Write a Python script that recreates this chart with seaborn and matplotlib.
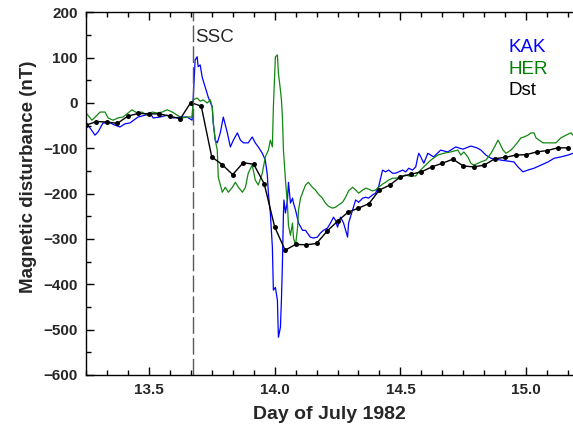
"""Magnetic disturbance during the July 1982 storm: KAK, HER and Dst."""

import numpy as np
import pandas as pd
import matplotlib
matplotlib.use('Agg')
import matplotlib.pyplot as plt
from matplotlib.ticker import MultipleLocator
import seaborn as sns

# KAK (blue) - day of July 1982, disturbance in nT
kak_day = [13.246, 13.266, 13.286, 13.298, 13.318, 13.346, 13.366, 13.385, 13.405, 13.425,
           13.457, 13.485, 13.505, 13.517, 13.545, 13.573, 13.597, 13.625, 13.652, 13.672,
           13.676, 13.684, 13.692, 13.696, 13.704, 13.712, 13.724, 13.736, 13.752, 13.756,
           13.764, 13.772, 13.784, 13.796, 13.812, 13.824, 13.836, 13.852, 13.864, 13.876,
           13.895, 13.911, 13.923, 13.935, 13.951, 13.963, 13.971, 13.975, 13.983, 13.991,
           13.995, 14.003, 14.011, 14.013, 14.015, 14.023, 14.027, 14.031, 14.035, 14.037,
           14.043, 14.051, 14.055, 14.063, 14.071, 14.075, 14.083, 14.095, 14.111, 14.123,
           14.130, 14.142, 14.154, 14.170, 14.182, 14.194, 14.210, 14.222, 14.234, 14.242,
           14.250, 14.262, 14.274, 14.290, 14.294, 14.310, 14.322, 14.334, 14.350, 14.362,
           14.373, 14.389, 14.401, 14.413, 14.429, 14.441, 14.453, 14.469, 14.481, 14.493,
           14.509, 14.521, 14.533, 14.548, 14.561, 14.569, 14.573, 14.581, 14.593, 14.609,
           14.632, 14.660, 14.688, 14.720, 14.748, 14.780, 14.804, 14.820, 14.840, 14.860,
           14.899, 14.951, 14.967, 14.987, 15.007, 15.031, 15.059, 15.087, 15.111, 15.138,
           15.166, 15.186]
kak_nT = [-40, -55, -71, -64, -44, -44, -49, -53, -46, -44,
          -31, -27, -22, -33, -31, -27, -33, -31, -31, -38,
          7, 95, 102, 80, 84, 57, 35, 13, -9, -44,
          -82, -88, -66, -31, -66, -97, -82, -66, -82, -88,
          -88, -75, -88, -97, -111, -126, -159, -199, -243, -318,
          -413, -407, -435, -480, -517, -495, -435, -354, -243, -214,
          -243, -214, -175, -221, -210, -221, -236, -265, -281, -281,
          -287, -296, -298, -296, -287, -281, -276, -265, -252, -259,
          -274, -252, -265, -296, -265, -236, -214, -219, -210, -208,
          -210, -203, -199, -186, -148, -152, -148, -155, -155, -152,
          -148, -152, -144, -148, -141, -119, -111, -119, -133, -111,
          -119, -104, -108, -97, -102, -95, -99, -104, -115, -122,
          -126, -130, -141, -152, -148, -144, -137, -130, -122, -119,
          -115, -111]

# HER (green)
her_day = [13.246, 13.258, 13.274, 13.294, 13.306, 13.326, 13.338, 13.358, 13.377, 13.397,
           13.417, 13.433, 13.453, 13.473, 13.493, 13.513, 13.533, 13.553, 13.573, 13.593,
           13.613, 13.632, 13.652, 13.672, 13.676, 13.692, 13.704, 13.716, 13.732, 13.744,
           13.752, 13.756, 13.764, 13.772, 13.776, 13.792, 13.804, 13.816, 13.832, 13.844,
           13.856, 13.872, 13.884, 13.895, 13.911, 13.923, 13.935, 13.951, 13.963, 13.975,
           13.983, 13.991, 13.995, 14.003, 14.011, 14.015, 14.023, 14.027, 14.031, 14.035,
           14.043, 14.051, 14.055, 14.063, 14.071, 14.075, 14.083, 14.091, 14.095, 14.103,
           14.115, 14.123, 14.134, 14.150, 14.162, 14.174, 14.190, 14.202, 14.214, 14.230,
           14.242, 14.254, 14.270, 14.282, 14.294, 14.310, 14.322, 14.334, 14.350, 14.362,
           14.373, 14.389, 14.401, 14.413, 14.429, 14.441, 14.453, 14.469, 14.481, 14.493,
           14.509, 14.521, 14.533, 14.548, 14.561, 14.573, 14.593, 14.621, 14.648, 14.672,
           14.700, 14.728, 14.740, 14.752, 14.768, 14.780, 14.792, 14.820, 14.840, 14.860,
           14.872, 14.888, 14.892, 14.908, 14.920, 14.939, 14.951, 14.967, 14.979, 14.991,
           15.007, 15.019, 15.031, 15.039, 15.051, 15.067, 15.087, 15.118, 15.138, 15.158,
           15.178, 15.186]
her_nT = [-20, -27, -38, -27, -20, -20, -33, -38, -33, -31,
          -22, -15, -22, -20, -27, -20, -22, -20, -15, -20,
          -27, -33, -31, -31, 7, 11, 4, 7, 0, 7,
          -9, -44, -82, -104, -164, -197, -186, -197, -186, -175,
          -186, -197, -186, -155, -137, -170, -181, -155, -119, -104,
          -82, -97, -9, 102, 106, 66, 29, 7, -31, -104,
          -170, -225, -270, -292, -265, -298, -314, -276, -236, -210,
          -192, -181, -175, -186, -192, -201, -210, -221, -228, -232,
          -230, -225, -219, -208, -194, -186, -192, -199, -192, -188,
          -190, -194, -192, -186, -179, -175, -170, -166, -166, -164,
          -161, -159, -161, -161, -161, -152, -141, -126, -115, -111,
          -108, -104, -115, -108, -119, -133, -137, -130, -126, -111,
          -99, -82, -86, -104, -111, -104, -97, -86, -77, -75,
          -71, -66, -66, -77, -82, -88, -88, -88, -77, -71,
          -66, -71]

# Dst hourly index, first value at 06 UT on 13 July
dst_nT = [-49, -41, -42, -45, -29, -23, -24, -24, -29, -35,
          1, -7, -119, -136, -158, -132, -135, -178, -273, -325,
          -312, -313, -310, -283, -261, -241, -232, -222, -192, -181,
          -163, -157, -152, -141, -133, -124, -139, -141, -137, -123,
          -120, -115, -114, -108, -105, -99, -99]
dst_day = 13.25 + np.arange(len(dst_nT)) / 24.0

ssc_day = 13.676

kak = pd.DataFrame({'day': kak_day, 'nT': kak_nT})
her = pd.DataFrame({'day': her_day, 'nT': her_nT})
dst = pd.DataFrame({'day': dst_day, 'nT': dst_nT})

sns.set_theme(style='ticks')
plt.rcParams['font.family'] = ['Liberation Sans', 'DejaVu Sans']

fig = plt.figure(figsize=(5.73, 4.26), dpi=100)
ax = fig.add_axes([0.150, 0.120, 0.850, 0.851])

blue = '#0000ff'
green = '#118811'

sns.lineplot(data=kak, x='day', y='nT', ax=ax, color=blue, lw=0.9,
             estimator=None, sort=False)
sns.lineplot(data=her, x='day', y='nT', ax=ax, color=green, lw=0.9,
             estimator=None, sort=False)
sns.lineplot(data=dst, x='day', y='nT', ax=ax, color='black', lw=1.0,
             marker='o', markersize=3.6, markeredgewidth=0,
             estimator=None, sort=False)

ax.axvline(ssc_day, color='0.35', lw=1.0, dashes=(12, 3))
ax.text(ssc_day + 0.008, 0.918, 'SSC', transform=ax.get_xaxis_transform(),
        fontsize=13.5, va='baseline', ha='left')

for i, (name, col) in enumerate([('KAK', blue), ('HER', '#008000'), ('Dst', 'black')]):
    ax.text(509 / 573, 1 - (52 + 21.5 * i) / 426, name, transform=fig.transFigure,
            fontsize=13.5, color=col, va='baseline', ha='left')

ax.set_xlim(13.25, 15.186)
ax.set_ylim(-600, 200)
ax.xaxis.set_major_locator(MultipleLocator(0.5))
ax.xaxis.set_minor_locator(MultipleLocator(1 / 12))
ax.yaxis.set_major_locator(MultipleLocator(100))
ax.yaxis.set_minor_locator(MultipleLocator(50))
ax.tick_params(which='both', direction='in', top=True, right=False,
               width=1.0, color='black')
ax.tick_params(which='major', length=6, labelsize=11, pad=6)
ax.tick_params(which='minor', length=3.5)
for lab in ax.get_xticklabels() + ax.get_yticklabels():
    lab.set_fontweight('bold')

for side in ['left', 'bottom', 'top']:
    ax.spines[side].set_color('black')
    ax.spines[side].set_linewidth(1.0)
ax.spines['right'].set_visible(False)

ax.set_xlabel('Day of July 1982', fontsize=14, fontweight='bold', labelpad=6)
ax.set_ylabel('Magnetic disturbance (nT)', fontsize=13.5, fontweight='bold')
ax.yaxis.set_label_coords(-0.10, 0.545)

fig.savefig('out.png', dpi=100)
plt.close(fig)
